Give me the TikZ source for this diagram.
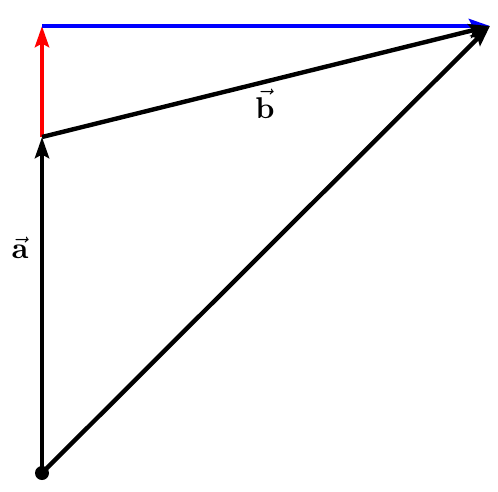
\documentclass[tikz,border=0pt]{standalone}
\usepackage{amsmath}
\usepackage{graphicx}
\usepackage{tikz}
\usetikzlibrary{arrows.meta}

\begin{document}
\begin{tikzpicture}[x=1pt,y=-1pt,
    vec/.style={line width=4.4pt,-{Stealth[length=21pt,width=14pt,inset=3.5pt]}},
    lbl/.style={inner sep=0pt}]
            \useasboundingbox (0,0) rectangle (498,491);
            \coordinate (O) at (42,473);
            \coordinate (A) at (42,137);
            \coordinate (C) at (42,26);
            \coordinate (B) at (490,26);

            \draw[vec,black] (O) -- (A);
            \draw[vec,red] (A) -- (C);
            \draw[vec,blue] (C) -- (B);
            \draw[vec,black] (A) -- (B);
            \draw[vec,black] (O) -- (B);
            \fill[black] (O) circle (7pt);

            \node[lbl] (la) at (20,248){\scalebox{3}{$\vec{\mathbf{a}}$}};
            \node[lbl] (lb) at (265,104){\scalebox{3}{$\vec{\mathbf{b}}$}};
        \end{tikzpicture}
\end{document}
